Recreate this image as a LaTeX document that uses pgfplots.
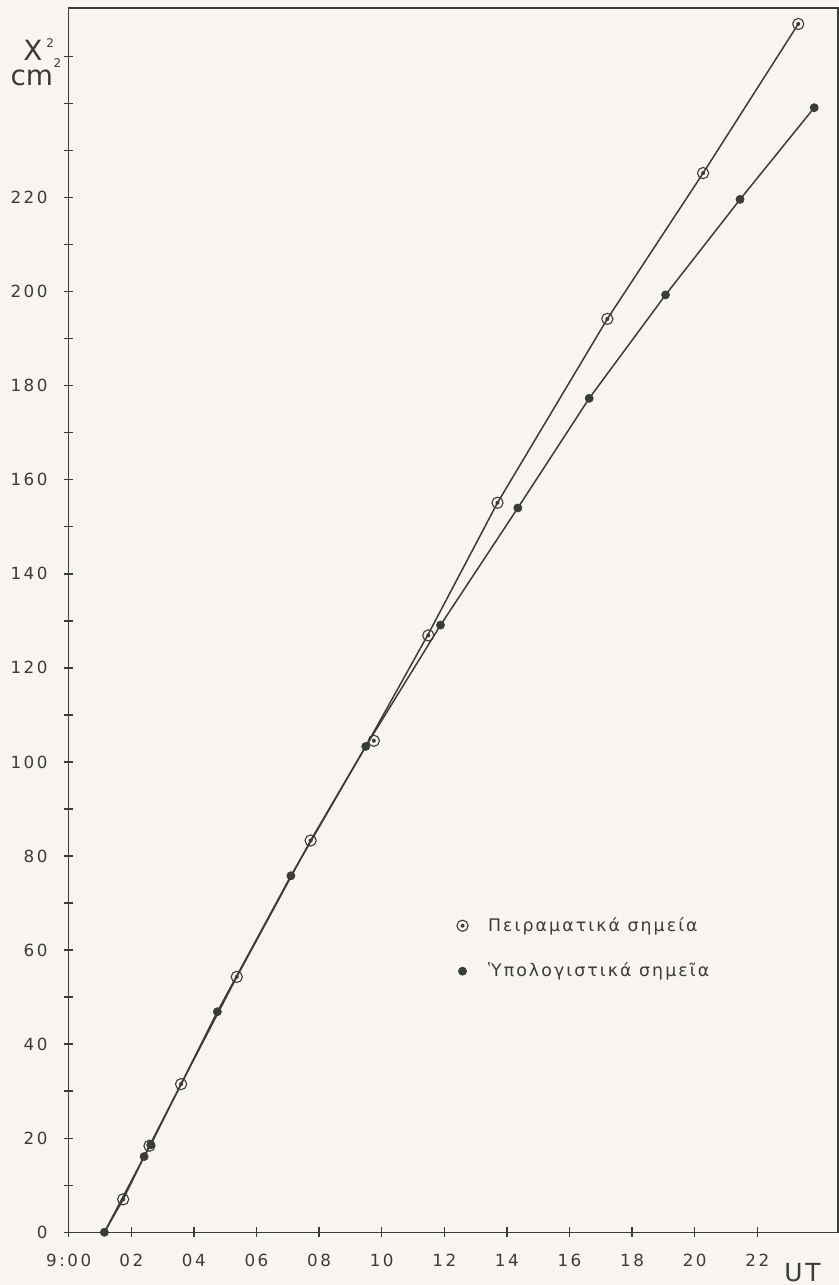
\documentclass[border=0pt]{standalone}
\usepackage{fontspec}
\setmainfont{DejaVu Sans}
\newfontfamily\tickfont{DejaVu Sans}[LetterSpace=15]
\newfontfamily\legfont{DejaVu Sans}[LetterSpace=12]
\usepackage{pgfplots}
\pgfplotsset{compat=1.18}
\definecolor{paper}{RGB}{248,245,240}
\definecolor{ink}{RGB}{58,60,54}
\pgfdeclareplotmark{odot}{%
  \pgfpathcircle{\pgfpointorigin}{2.8bp}\pgfusepathqstroke
  \pgfpathcircle{\pgfpointorigin}{1.0bp}\pgfusepathqfill}
\begin{document}
\begin{tikzpicture}
\useasboundingbox (-34.35bp,-26.35bp) rectangle (385.15bp,616.15bp);
\fill[paper] (-34.35bp,-26.35bp) rectangle (385.15bp,616.15bp);
\begin{axis}[at={(0,0)}, anchor=south west, scale only axis,
  width=384.65bp, height=612.15bp,
  xmin=0, xmax=24.58, ymin=0, ymax=260.3,
  axis line style={draw=ink, line width=0.8bp},
  tick pos=left, tick align=center, major tick length=4.8bp,
  tick style={draw=ink, line width=0.7bp},
  xtick={0,2,...,22},
  xticklabels={9:00\hspace{13bp},02,04,06,08,10,12,14,16,18,20,22},
  ytick={0,10,...,250},
  yticklabels={0,{},20,{},40,{},60,{},80,{},100,{},120,{},140,{},160,{},180,{},200,{},220,{},{},{}},
  xticklabel style={font=\tickfont\fontsize{8.4}{10}\selectfont, text=ink, anchor=north, inner sep=0pt, yshift=-8.5bp},
  yticklabel style={font=\tickfont\fontsize{8.4}{10}\selectfont, text=ink, anchor=east, inner sep=0pt, xshift=-8bp},
  legend style={draw=none, fill=none, font=\legfont\fontsize{8.7}{10}\selectfont, text=ink,
    at={(axis cs:12.2,67.9)}, anchor=north west, row sep=14.3bp,
    nodes={inner sep=0pt}, column sep=10bp},
  legend cell align=left,
  legend image code/.code={\draw[#1] plot coordinates {(0bp,0bp)};},
]
% lines
\addplot[ink, line width=0.75bp, forget plot] coordinates {
 (1.14,0) (1.74,7.0) (2.58,18.4) (3.59,31.5) (5.37,54.3) (7.73,83.3)
 (9.49,103.3) (11.49,127.2) (13.7,155.1) (17.21,194.2) (20.27,225.2) (23.31,256.9)};
\addplot[ink, line width=0.75bp, forget plot] coordinates {
 (1.14,0) (2.41,16.1) (2.62,18.6) (4.75,46.9) (7.10,75.8) (9.49,103.3)
 (11.88,129.1) (14.35,154.0) (16.63,177.3) (19.07,199.3) (21.45,219.6) (23.82,239.1)};
% markers
\addplot[only marks, mark=odot, draw=ink, fill=ink, mark options={line width=0.55bp}] coordinates {
 (1.74,7.0) (2.58,18.4) (3.59,31.5) (5.37,54.3) (7.73,83.3) (9.75,104.5)
 (11.49,126.9) (13.7,155.1) (17.21,194.2) (20.27,225.2) (23.31,256.9)};
\addlegendentry{Πειραματικά σημεία}
\addplot[only marks, mark=*, mark size=2bp, draw=ink, fill=ink] coordinates {
 (1.14,0) (2.41,16.1) (2.62,18.6) (4.75,46.9) (7.10,75.8) (9.49,103.3)
 (11.88,129.1) (14.35,154.0) (16.63,177.3) (19.07,199.3) (21.45,219.6) (23.82,239.1)};
\addlegendentry{Ὑπολογιστικά σημεῖα}
\end{axis}
\node[text=ink, font=\fontsize{14}{16}\selectfont, inner sep=0pt] at (-17.85bp,591.15bp) {X};
\node[text=ink, font=\fontsize{6}{7}\selectfont, inner sep=0pt] at (-9.3bp,594.6bp) {2};
\node[text=ink, font=\fontsize{14}{16}\selectfont, inner sep=0pt] at (-18.4bp,577.0bp) {cm};
\node[text=ink, font=\fontsize{6}{7}\selectfont, inner sep=0pt] at (-5.6bp,584.6bp) {2};
\node[text=ink, font=\legfont\fontsize{12.5}{14}\selectfont, inner sep=0pt] at (366.9bp,-20.1bp) {UT};
\end{tikzpicture}
\end{document}
